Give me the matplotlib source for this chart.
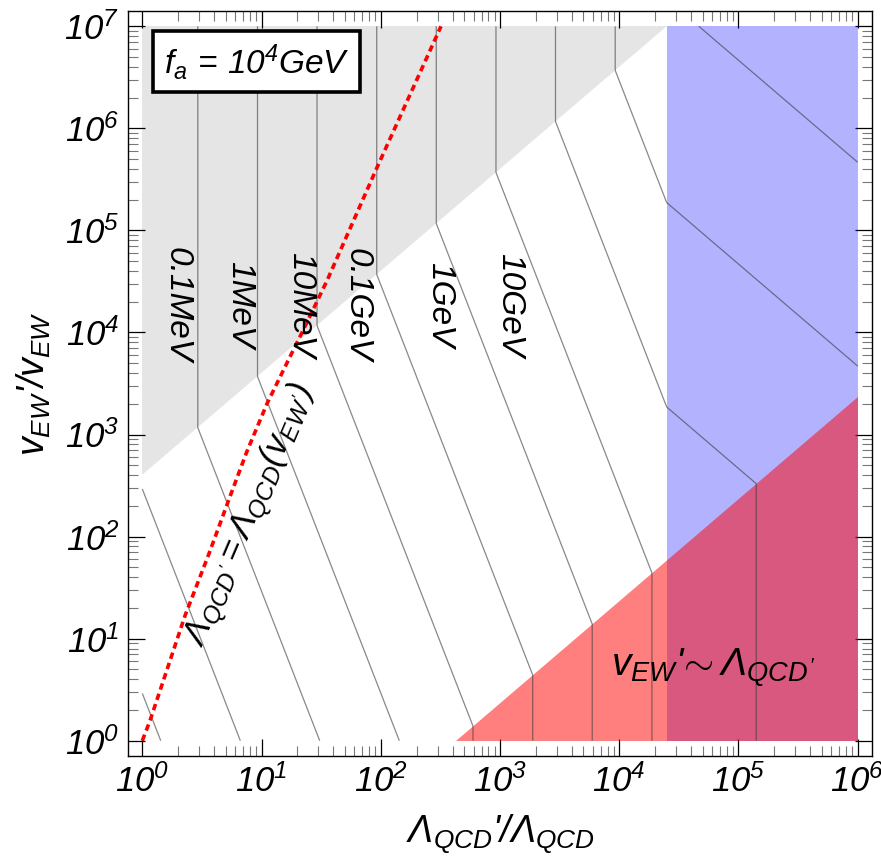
import matplotlib
matplotlib.use("Agg")
import matplotlib.pyplot as plt
import numpy as np
from matplotlib.ticker import FixedLocator, FuncFormatter, NullFormatter

plt.rcParams["font.family"] = "Liberation Sans"
plt.rcParams["font.style"] = "italic"
plt.rcParams["mathtext.fontset"] = "custom"
plt.rcParams["mathtext.rm"] = "Liberation Sans:italic"
plt.rcParams["mathtext.it"] = "Liberation Sans:italic"
plt.rcParams["mathtext.sf"] = "Liberation Sans:italic"

# plot range
X_MIN, X_MAX = 1.0, 1e6
Y_MIN, Y_MAX = 1.0, 1e7

# region boundaries
GRAY_RATIO = 400.0     # excluded above v'/v = 400 * L'/L
RED_RATIO = 427.0      # v_EW' ~ L_QCD' below v'/v = (L'/L) / 427
BLUE_EDGE = 2.5e4      # blue band for L'/L > 2.5e4

# axion-mass contours: L'/L where each contour is vertical in the gray zone
CONTOUR_X0 = [0.292, 0.925, 2.92, 9.25, 29.2, 92.5, 292, 925, 2920, 9250, 29200]
MASS_LABELS = ["0.1MeV", "1MeV", "10MeV", "0.1GeV", "1GeV", "10GeV"]
MASS_LABEL_X = [1.95, 6.6, 21.1, 63.0, 309, 1200]
MASS_LABEL_Y = 1.86e4

# L_QCD' = L_QCD(v_EW') curve
CURVE_X = [1.0, 1.16, 2.29, 3.59, 5.46, 7.53, 11.1, 16.3, 22.5, 35.5, 93.3, 320]
CURVE_Y = [1.0, 1.57, 17.0, 66.0, 250, 680, 2000, 5000, 10700, 32400, 4.17e5, 1.0e7]

fig = plt.figure(figsize=(8.81, 8.59), dpi=100)
ax = fig.add_axes([128 / 881, 103 / 859, 744 / 881, 745 / 859])
ax.set_xscale("log")
ax.set_yscale("log")

# contour field in log space: value = log10 of the vertical position
g, r, b = np.log10(GRAY_RATIO), np.log10(RED_RATIO), np.log10(BLUE_EDGE)
u = np.linspace(np.log10(X_MIN), np.log10(X_MAX), 1201)
v = np.linspace(np.log10(Y_MIN), np.log10(Y_MAX), 1401)
U, V = np.meshgrid(u, v)
white = (V + 3 * U - g) / 4
red = U - (g + r) / 4
blue = (V + U + 2 * b - g) / 4
redblue = (2 * U - r + 2 * b - g) / 4
F = np.where(V >= U + g, U,
             np.where(U < b,
                      np.where(V >= U - r, white, red),
                      np.where(V >= U - r, blue, redblue)))
ax.contour(10 ** U, 10 ** V, F, levels=np.log10(CONTOUR_X0),
           colors="#3a3a3a", linewidths=0.9, alpha=0.6, zorder=3,
           negative_linestyles="solid")

# shaded regions
ax.fill([X_MIN, X_MIN, Y_MAX / GRAY_RATIO], [GRAY_RATIO * X_MIN, Y_MAX, Y_MAX],
        color="black", alpha=0.1, lw=0, zorder=1)
ax.fill_between([BLUE_EDGE, X_MAX], Y_MIN, Y_MAX, color="blue", alpha=0.3,
                lw=0, zorder=2)
ax.fill([RED_RATIO * Y_MIN, X_MAX, X_MAX], [Y_MIN, Y_MIN, X_MAX / RED_RATIO],
        color="red", alpha=0.5, lw=0, zorder=2)

ax.plot(CURVE_X, CURVE_Y, color="red", lw=2.6, ls=(0, (1.8, 1.2)),
        zorder=5, dash_capstyle="butt")

for lab, lx in zip(MASS_LABELS, MASS_LABEL_X):
    ax.text(lx, MASS_LABEL_Y, lab, rotation=-90, fontsize=24,
            ha="center", va="center", zorder=6)

ax.text(8.04, 160, r"$\Lambda_{QCD'}=\Lambda_{QCD}(v_{EW'})$", rotation=66.9,
        rotation_mode="anchor", ha="center", va="center", fontsize=25, zorder=6)
ax.text(0.787, 0.118, r"$v_{EW}$'$\!\sim\Lambda_{QCD'}$", transform=ax.transAxes,
        ha="center", va="center", fontsize=28, zorder=6)
ax.text(0.173, 0.932, r"$f_a\,=\,10^4GeV$", transform=ax.transAxes,
        ha="center", va="center", fontsize=24, zorder=7,
        bbox=dict(boxstyle="square,pad=0.32", fc="white", ec="black", lw=2.6))

ax.set_xlim(10 ** -0.12, 10 ** 6.12)
ax.set_ylim(10 ** -0.15, 10 ** 7.15)

xmaj = [10.0 ** k for k in range(0, 7)]
ymaj = [10.0 ** k for k in range(0, 8)]
xmin_t = [m * 10.0 ** k for k in range(0, 6) for m in range(2, 10)]
ymin_t = [m * 10.0 ** k for k in range(0, 7) for m in range(2, 10)]
ax.xaxis.set_major_locator(FixedLocator(xmaj))
ax.yaxis.set_major_locator(FixedLocator(ymaj))
ax.xaxis.set_minor_locator(FixedLocator(xmin_t))
ax.yaxis.set_minor_locator(FixedLocator(ymin_t))
fmt = FuncFormatter(lambda val, pos: r"$10^{%d}$" % round(np.log10(val)))
ax.xaxis.set_major_formatter(fmt)
ax.yaxis.set_major_formatter(fmt)
ax.xaxis.set_minor_formatter(NullFormatter())
ax.yaxis.set_minor_formatter(NullFormatter())
ax.tick_params(which="both", direction="in", top=True, right=True)
ax.tick_params(which="major", length=12, width=0.9, labelsize=25, pad=6)
ax.tick_params(which="minor", length=7.5, width=0.8, color="#777777")
for s in ax.spines.values():
    s.set_linewidth(1.0)

ax.set_xlabel(r"$\Lambda_{QCD}$'/$\Lambda_{QCD}$", fontsize=27, labelpad=10)
ax.set_ylabel(r"$v_{EW}$'/$v_{EW}$", fontsize=27, labelpad=8)

fig.savefig("out.png", dpi=100, facecolor="white")
